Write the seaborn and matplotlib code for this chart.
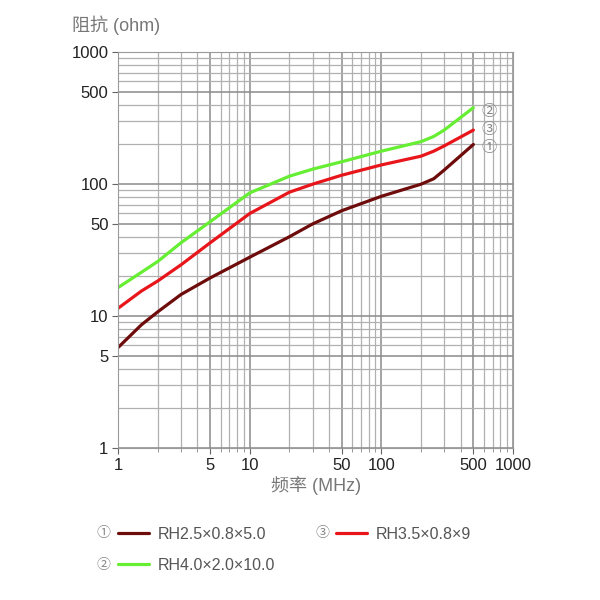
"""Impedance vs frequency for three RH ferrite beads"""
import numpy as np
import pandas as pd
import matplotlib
matplotlib.use("Agg")
import matplotlib.pyplot as plt
import matplotlib.ticker as mticker
import seaborn as sns

# Data (MHz, ohm)
freq = [1, 1.5, 2, 3, 5, 10, 20, 30, 50, 100, 200, 250, 300, 500]
rh25 = [5.8, 8.6, 10.8, 14.6, 19.5, 28, 40, 50, 63, 81, 100, 110, 128, 200]
rh35 = [11.5, 15.5, 18.5, 24.5, 36, 60, 87, 100, 117, 140, 163, 178, 195, 257]
rh40 = [16.5, 21.5, 26, 36, 52, 86, 115, 130, 148, 178, 210, 230, 257, 380]

series_names = ["RH2.5×0.8×5.0", "RH4.0×2.0×10.0", "RH3.5×0.8×9"]
series_marks = ["①", "②", "③"]
series_colors = ["#6e0b0b", "#66ee33", "#e8161b"]

x_ticks = [1, 5, 10, 50, 100, 500, 1000]
y_ticks = [1, 5, 10, 50, 100, 500, 1000]

df = pd.DataFrame({
    "freq": freq * 3,
    "ohm": rh25 + rh40 + rh35,
    "part": [series_names[0]] * len(freq) + [series_names[1]] * len(freq)
            + [series_names[2]] * len(freq),
})

sns.set_style("white")
plt.rcParams['font.family'] = ['Liberation Sans', 'Noto Sans CJK SC', 'DejaVu Sans']

fig = plt.figure(figsize=(6, 6), dpi=100)
ax = fig.add_axes([0.197, 0.253, 0.658, 0.66])

sns.lineplot(data=df, x="freq", y="ohm", hue="part", hue_order=series_names,
             palette=series_colors, linewidth=2.3, ax=ax, legend=False)

ax.set_xscale("log")
ax.set_yscale("log")
ax.set_xlim(1, 1000)
ax.set_ylim(1, 1000)

ax.xaxis.set_major_locator(mticker.FixedLocator(x_ticks))
ax.yaxis.set_major_locator(mticker.FixedLocator(y_ticks))
ax.xaxis.set_major_formatter(mticker.FixedFormatter([str(t) for t in x_ticks]))
ax.yaxis.set_major_formatter(mticker.FixedFormatter([str(t) for t in y_ticks]))
ax.xaxis.set_minor_locator(mticker.LogLocator(base=10, subs=np.arange(2, 10)))
ax.yaxis.set_minor_locator(mticker.LogLocator(base=10, subs=np.arange(2, 10)))
ax.xaxis.set_minor_formatter(mticker.NullFormatter())
ax.yaxis.set_minor_formatter(mticker.NullFormatter())

ax.grid(which="major", color="#8a8a8a", linewidth=1.1)
ax.grid(which="minor", color="#b0b0b0", linewidth=0.9)
ax.set_axisbelow(True)

ax.tick_params(axis="both", which="major", labelsize=12, length=4, color="#666666",
               labelcolor="#222222", direction="out", bottom=True, left=True, pad=3)
ax.tick_params(axis="x", which="minor", length=3, color="#888888", bottom=True)
for side in ["top", "right", "left", "bottom"]:
    ax.spines[side].set_color("#9a9a9a")
    ax.spines[side].set_linewidth(0.8)

ax.set_xlabel("频率 (MHz)", fontsize=13, color="#777777", labelpad=2)
ax.set_ylabel("")
ax.text(-0.117, 1.068, "阻抗 (ohm)", transform=ax.transAxes, fontsize=13,
        color="#777777", ha="left", va="center")

# circled markers next to the curve ends
mark_family = ['Noto Sans CJK SC', 'DejaVu Sans']
for mark, yf in zip(["②", "③", "①"], [0.851, 0.806, 0.76]):
    ax.text(0.94, yf, mark, transform=ax.transAxes, fontsize=11, color="#888888",
            ha="center", va="center", family=mark_family)

# legend below the chart
handles = [plt.Line2D([], [], color=c, linewidth=2.3) for c in series_colors]
fig.legend(handles, series_names, ncol=2, loc="upper left",
           bbox_to_anchor=(0.173, 0.146), frameon=False, fontsize=11.5,
           handlelength=1.9, handletextpad=0.6, columnspacing=3.8,
           labelspacing=1.0, labelcolor="#555555")
for mark, (xf, yf) in zip(series_marks, [(0.172, 0.111), (0.172, 0.058), (0.537, 0.111)]):
    fig.text(xf, yf, mark, fontsize=10, color="#888888", ha="center", va="center",
             family=mark_family)

fig.savefig("out.png", dpi=100)
